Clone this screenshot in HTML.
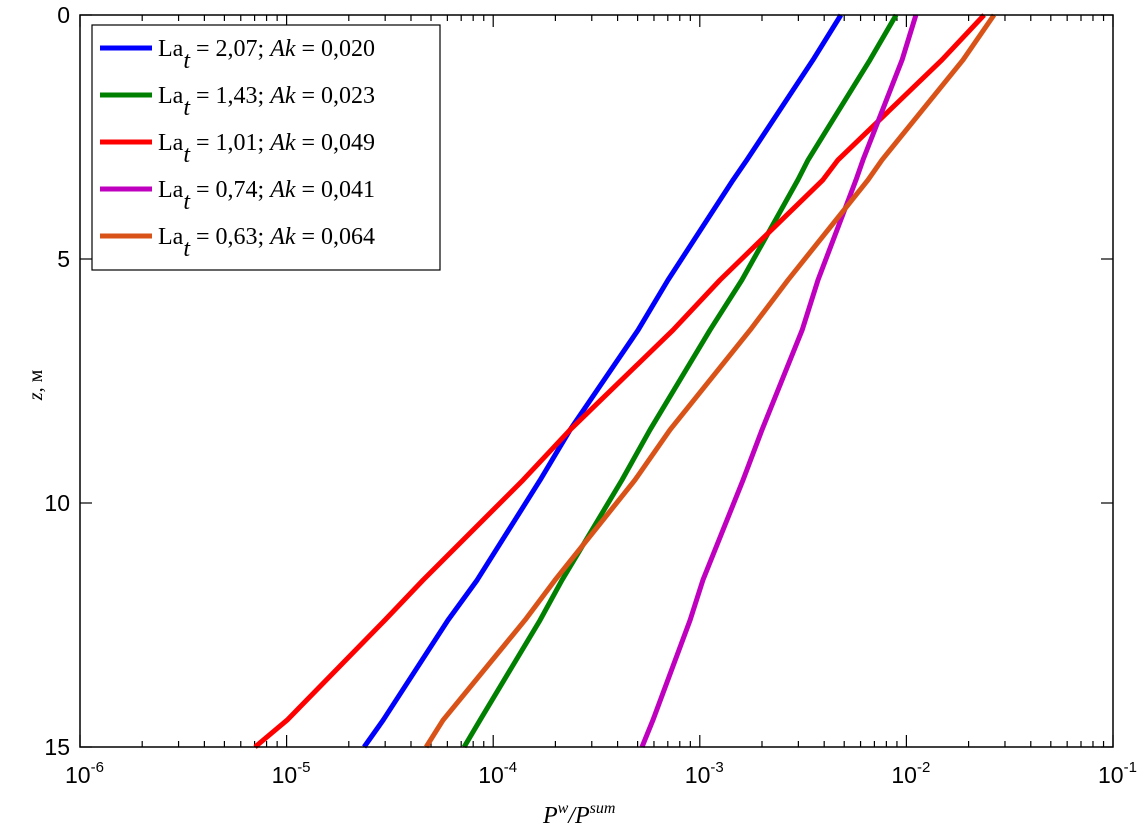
<!DOCTYPE html>
<html><head><meta charset="utf-8"><style>
body{margin:0;background:#fff}
svg{display:block;font-family:"Liberation Serif",serif}
</style></head><body>
<svg id="chart" width="1141" height="832" viewBox="0 0 1141 832">
<rect x="0" y="0" width="1141" height="832" fill="#fff"/>
<g id="grid"></g>
<g id="series"></g>
<rect x="80" y="15" width="1033" height="732" fill="none" stroke="#000" stroke-width="1.5"/>
<g id="legend"></g>
<text x="543" y="823" font-size="24" font-style="italic">P<tspan font-size="16" dy="-10">w</tspan><tspan dy="10">/P</tspan><tspan font-size="16" dy="-10">sum</tspan></text>
<text transform="translate(42,385) rotate(-90)" font-size="20" text-anchor="middle"><tspan font-style="italic">z</tspan>, м</text>
</svg>
<script>
const zLevels=[0,0.92,2.97,3.38,5.43,6.46,8.5,9.53,11.58,12.4,14.45,15];
const blueLog=[-2.317,-2.452,-2.772,-2.839,-3.154,-3.299,-3.628,-3.773,-4.078,-4.219,-4.533,-4.625];
const greenLog=[-2.050,-2.176,-2.476,-2.525,-2.796,-2.951,-3.241,-3.377,-3.667,-3.773,-4.064,-4.141];
const redLog=[-1.624,-1.828,-2.331,-2.404,-2.902,-3.130,-3.628,-3.856,-4.340,-4.524,-4.998,-5.153];
const magentaLog=[-1.954,-2.021,-2.210,-2.244,-2.428,-2.505,-2.699,-2.791,-2.985,-3.047,-3.227,-3.280];
const orangeLog=[-1.576,-1.726,-2.118,-2.186,-2.573,-2.757,-3.144,-3.314,-3.701,-3.846,-4.243,-4.325];
const legendLabels=[["2,07","0,020"],["1,43","0,023"],["1,01","0,049"],["0,74","0,041"],["0,63","0,064"]];
const xTickExps=[-6,-5,-4,-3,-2,-1];
const yTicks=[0,5,10,15];
const NS="http://www.w3.org/2000/svg";
const L=80,R=1113,T=15,B=747;
function xs(lg){return L+(lg+6)/5*(R-L);}
function ys(z){return T+z/15*(B-T);}
const grid=document.getElementById('grid');
function line(par,x1,y1,x2,y2,name,w){const l=document.createElementNS(NS,'line');l.setAttribute('x1',x1);l.setAttribute('y1',y1);l.setAttribute('x2',x2);l.setAttribute('y2',y2);l.setAttribute('stroke','#000');l.setAttribute('stroke-width',w||1.2);


par.appendChild(l);}
for(const e of xTickExps){
 const x=xs(e);
 line(grid,x,B,x,B-12,'x-major-tick');line(grid,x,T,x,T+12,'x-major-tick');
 const t=document.createElementNS(NS,'text');t.setAttribute('x',x-15);t.setAttribute('y',783);t.setAttribute('font-size','23');t.setAttribute('font-family','Liberation Sans, sans-serif');
 t.innerHTML='10<tspan font-size="15" dy="-11">'+(e<0?'-':'')+Math.abs(e)+'</tspan>';
 
 
 grid.appendChild(t);
 if(e<-1){for(let m=2;m<10;m++){const xm=xs(e+Math.log10(m));line(grid,xm,B,xm,B-6,'x-minor-tick');line(grid,xm,T,xm,T+6,'x-minor-tick');}}
}
for(const z of yTicks){
 const y=ys(z);
 line(grid,L,y,L+12,y,'y-major-tick');line(grid,R,y,R-12,y,'y-major-tick');
 const t=document.createElementNS(NS,'text');t.setAttribute('x',70);t.setAttribute('y',y+8);t.setAttribute('font-size','23');t.setAttribute('text-anchor','end');t.setAttribute('font-family','Liberation Sans, sans-serif');t.textContent=z;
 
 
 grid.appendChild(t);
}
const series=[[blueLog,'#0000ff','series-blue'],[greenLog,'#008000','series-green'],[redLog,'#ff0000','series-red'],[magentaLog,'#bf00bf','series-magenta'],[orangeLog,'#d95319','series-orange']];
const sg=document.getElementById('series');
function path(vals){
 return vals.map((v,i)=>(i?'L':'M')+xs(v).toFixed(1)+','+ys(zLevels[i]).toFixed(1)).join(' ');
}
for(const [vals,col,name] of series){
 const pa=document.createElementNS(NS,'path');pa.setAttribute('d',path(vals));pa.setAttribute('fill','none');pa.setAttribute('stroke',col);pa.setAttribute('stroke-width','5');pa.setAttribute('stroke-linejoin','round');
 
 
 sg.appendChild(pa);
}
const lg=document.getElementById('legend');
const box=document.createElementNS(NS,'rect');box.setAttribute('x',92);box.setAttribute('y',25);box.setAttribute('width',348);box.setAttribute('height',245);box.setAttribute('fill','#fff');box.setAttribute('stroke','#000');box.setAttribute('stroke-width','1.2');


lg.appendChild(box);
legendLabels.forEach((lab,i)=>{
 const y=48+i*47;
 const l=document.createElementNS(NS,'line');l.setAttribute('x1',100);l.setAttribute('x2',152);l.setAttribute('y1',y);l.setAttribute('y2',y);l.setAttribute('stroke',series[i][1]);l.setAttribute('stroke-width','5');
 
 
 lg.appendChild(l);
 const t=document.createElementNS(NS,'text');t.setAttribute('x',158);t.setAttribute('y',y+8);t.setAttribute('font-size','24');
 t.innerHTML='La<tspan font-style="italic" dy="12">t</tspan><tspan dy="-12"> = '+lab[0]+'; </tspan><tspan font-style="italic">Ak</tspan> = '+lab[1];
 
 
 lg.appendChild(t);
});
</script>
</body></html>
